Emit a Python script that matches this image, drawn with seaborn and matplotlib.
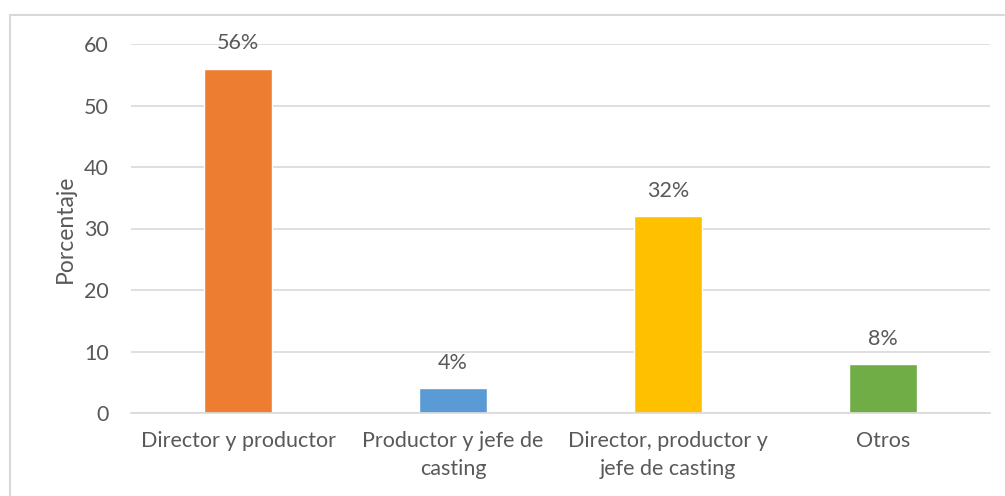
import matplotlib
matplotlib.use("Agg")
import matplotlib.pyplot as plt
import seaborn as sns
import pandas as pd
from matplotlib.patches import Rectangle

categories = ["Director y productor", "Productor y jefe de\ncasting",
              "Director, productor y\njefe de casting", "Otros"]
values = [56, 4, 32, 8]
labels = ["56%", "4%", "32%", "8%"]
colors = ["#ED7D31", "#5B9BD5", "#FFC000", "#70AD47"]
yticks = [0, 10, 20, 30, 40, 50, 60]

sns.set_theme(style="white")
plt.rcParams["font.family"] = ["Lato", "DejaVu Sans"]
text_color = "#595959"
fs = 15.5

df = pd.DataFrame({"cat": categories, "val": values})

fig = plt.figure(figsize=(10.05, 4.96), dpi=100)
ax = fig.add_axes([131/1005, 1 - 413/496, (990-131)/1005, (413-44)/496])

sns.barplot(data=df, x="cat", y="val", hue="cat", palette=colors,
            width=0.317, ax=ax, legend=False, saturation=1)

ax.set_ylim(0, 60)
ax.set_yticks(yticks)
ax.set_yticklabels([str(t) for t in yticks], fontsize=fs, color=text_color)
ax.tick_params(axis="x", labelsize=fs, labelcolor=text_color, length=0, pad=13)
for t in ax.get_xticklabels():
    t.set_linespacing(1.5)
ax.tick_params(axis="y", length=0, pad=16)
ax.set_xlabel("")
ax.set_ylabel("Porcentaje", fontsize=16.5, color=text_color, labelpad=6)
ax.yaxis.grid(True, color="#D9D9D9", linewidth=1.2)
ax.set_axisbelow(True)
for s in ["top", "right", "left"]:
    ax.spines[s].set_visible(False)
ax.spines["bottom"].set_color("#D9D9D9")
ax.spines["bottom"].set_linewidth(1.2)

for i, (v, lab) in enumerate(zip(values, labels)):
    ax.annotate(lab, (i, v), xytext=(0, 11), textcoords="offset points",
                ha="center", va="bottom", fontsize=fs, color=text_color)

fig.patches.append(Rectangle((10/1005, -0.1), 1.1, 1 - 15/496 + 0.1,
                             transform=fig.transFigure, fill=False,
                             edgecolor="#D9D9D9", linewidth=1.5))

fig.savefig("out.png", dpi=100)
